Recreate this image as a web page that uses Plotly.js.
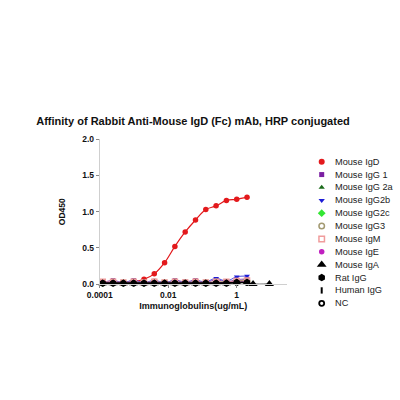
<!DOCTYPE html>
<html>
<head>
<meta charset="utf-8">
<script src="https://cdn.plot.ly/plotly-3.0.1.min.js"></script>
<style>html,body{margin:0;padding:0;background:#fff;}#chart{width:400px;height:400px;}</style>
</head>
<body>
<div id="chart"></div>
<script>
// concentrations (ug/mL), 2-fold dilution series, ascending
const conc = [0.0001220703125, 0.000244140625, 0.00048828125, 0.0009765625, 0.001953125,
  0.00390625, 0.0078125, 0.015625, 0.03125, 0.0625, 0.125, 0.25, 0.5, 1, 2];
const concIgA = conc.concat([3, 9]);

const seriesNames = ["Mouse IgD", "Mouse IgG 1", "Mouse IgG 2a", "Mouse IgG2b", "Mouse IgG2c",
  "Mouse IgG3", "Mouse IgM", "Mouse IgE", "Mouse IgA", "Rat IgG", "Human IgG", "NC"];

const mouseIgD   = [0.01, 0.01, 0.015, 0.03, 0.065, 0.14, 0.295, 0.52, 0.72, 0.885, 1.03, 1.08, 1.155, 1.17, 1.20];
const mouseIgG1  = [0.02, 0.05, 0.02, 0.05, 0.02, 0.04, 0.02, 0.05, 0.03, 0.05, 0.02, 0.06, 0.03, 0.06, 0.07];
const mouseIgG2a = [0.01, 0.02, 0.01, 0.02, 0.01, 0.02, 0.01, 0.02, 0.01, 0.02, 0.02, 0.02, 0.03, 0.04, 0.06];
const mouseIgG2b = [0.02, 0.04, 0.02, 0.05, 0.02, 0.05, 0.02, 0.05, 0.02, 0.05, 0.03, 0.08, 0.04, 0.10, 0.11];
const mouseIgG2c = [0.01, 0.02, 0.01, 0.02, 0.01, 0.02, 0.01, 0.02, 0.01, 0.02, 0.01, 0.03, 0.02, 0.03, 0.04];
const mouseIgG3  = [0.02, 0.03, 0.02, 0.03, 0.02, 0.03, 0.02, 0.03, 0.02, 0.03, 0.02, 0.03, 0.02, 0.04, 0.04];
const mouseIgM   = [0.03, 0.03, 0.02, 0.03, 0.02, 0.03, 0.02, 0.03, 0.02, 0.03, 0.02, 0.03, 0.03, 0.04, 0.05];
const mouseIgE   = [0.02, 0.02, 0.01, 0.02, 0.01, 0.02, 0.01, 0.02, 0.01, 0.02, 0.01, 0.02, 0.02, 0.03, 0.03];
const mouseIgA   = [0.01, 0.01, 0.01, 0.01, 0.01, 0.01, 0.01, 0.01, 0.01, 0.01, 0.01, 0.01, 0.01, 0.02, 0.02, 0.0, 0.0];
const ratIgG     = [0.01, 0.01, 0.01, 0.01, 0.01, 0.01, 0.01, 0.01, 0.01, 0.01, 0.01, 0.01, 0.01, 0.02, 0.02];
const humanIgG   = [0.01, 0.01, 0.01, 0.01, 0.01, 0.01, 0.01, 0.01, 0.01, 0.01, 0.01, 0.01, 0.02, 0.02, 0.02];
const ncValues   = [0.01, 0.01, 0.01, 0.01, 0.01, 0.01, 0.01, 0.01, 0.01, 0.01, 0.01, 0.01, 0.01, 0.02, 0.02];

const xTickVals = [0.0001, 0.01, 1];
const xTickText = ["0.0001", "0.01", "1"];
const yTickVals = [0, 0.5, 1, 1.5, 2];

const seriesX = [conc, conc, conc, conc, conc, conc, conc, conc, concIgA, conc, conc, conc];
const seriesY = [mouseIgD, mouseIgG1, mouseIgG2a, mouseIgG2b, mouseIgG2c, mouseIgG3, mouseIgM, mouseIgE,
  mouseIgA, ratIgG, humanIgG, ncValues];

const styles = [
  {color: "#e3191c", symbol: "circle", size: 5.5, lw: 0, line: 1.2},
  {color: "#7b1fa2", symbol: "square", size: 4.5, lw: 0, line: 0.8},
  {color: "#1b6b1b", symbol: "triangle-up", size: 5, lw: 0, line: 1},
  {color: "#1c1cd6", symbol: "triangle-down", size: 5, lw: 0, line: 0.8},
  {color: "#33e633", symbol: "diamond", size: 5.5, lw: 0, line: 0.8},
  {color: "#a39a72", symbol: "circle-open", size: 5, lw: 1.5, line: 0.8},
  {color: "#f09c9c", symbol: "square-open", size: 5, lw: 1.5, line: 0.8},
  {color: "#c020c0", symbol: "circle", size: 5, lw: 0, line: 0.8},
  {color: "#000000", symbol: "triangle-up", size: 8, lw: 0, line: 1},
  {color: "#000000", symbol: "hexagon", size: 7, lw: 0, line: 1.4},
  {color: "#000000", symbol: "line-ns", size: 4, lw: 2, line: 1},
  {color: "#000000", symbol: "circle-open", size: 4.5, lw: 1.8, line: 1}
];

const traces = [];
seriesNames.forEach((name, i) => {
  const s = styles[i];
  traces.push({
    type: "scatter", mode: "lines+markers", name: name,
    x: seriesX[i], y: seriesY[i], xaxis: "x", yaxis: "y",
    line: {color: s.color, width: s.line, shape: "spline"},
    marker: {color: s.color, symbol: s.symbol, size: s.size, line: {color: s.color, width: s.lw}},
    cliponaxis: false, showlegend: false, hoverinfo: "skip"
  });
});
// custom legend drawn on a hidden helper axis pair
const annotations = [];
seriesNames.forEach((name, i) => {
  const s = styles[i];
  traces.push({
    type: "scatter", mode: "markers", x: [0], y: [i], xaxis: "x2", yaxis: "y2",
    marker: {color: s.color, symbol: s.symbol, size: s.size + 0.5, line: {color: s.color, width: s.lw}},
    cliponaxis: false, showlegend: false, hoverinfo: "skip"
  });
  annotations.push({
    xref: "x2", yref: "y2", x: 11.5, y: i, text: name, showarrow: false,
    xanchor: "left", yanchor: "middle",
    font: {family: "Liberation Sans, Arial, sans-serif", size: 9.2, color: "#222"}
  });
});

const F = "Liberation Sans, Arial, sans-serif";
const layout = {
  width: 400, height: 400,
  margin: {l: 0, r: 0, t: 0, b: 0},
  paper_bgcolor: "#fff", plot_bgcolor: "#fff",
  showlegend: false,
  title: {
    text: "Affinity of Rabbit Anti-Mouse IgD (Fc) mAb, HRP conjugated",
    x: 0.4825, xanchor: "center", y: 0.696, yanchor: "middle", xref: "container", yref: "container",
    font: {family: F, size: 11, weight: "bold", color: "#111"}
  },
  xaxis: {
    type: "log", domain: [0.2495, 0.71675], range: [-4, 1.46], anchor: "y",
    tickvals: xTickVals, ticktext: xTickText,
    ticks: "outside", ticklen: 3, tickcolor: "#888", tickwidth: 1,
    showline: true, linecolor: "#cfcfcf", linewidth: 1,
    showgrid: false, zeroline: false,
    tickfont: {family: F, size: 8.5, weight: "bold", color: "#111"},
    title: {text: "Immunoglobulins(ug/mL)", standoff: 3, font: {family: F, size: 9, weight: "bold", color: "#111"}}
  },
  yaxis: {
    domain: [0.29, 0.65175], range: [0, 2], anchor: "x",
    tickvals: yTickVals, tickformat: ".1f",
    ticks: "outside", ticklen: 3, tickcolor: "#888", tickwidth: 1,
    showline: true, linecolor: "#cfcfcf", linewidth: 1,
    showgrid: false, zeroline: false,
    tickfont: {family: F, size: 8.5, weight: "bold", color: "#111"},
    title: {text: "OD450", standoff: 15, font: {family: F, size: 8.5, weight: "bold", color: "#111"}}
  },
  xaxis2: {domain: [0.75, 1], range: [-21.7, 78.3], anchor: "y2", visible: false, fixedrange: true},
  yaxis2: {domain: [0, 1], range: [18.512, -12.561], anchor: "x2", visible: false, fixedrange: true},
  annotations: annotations
};

Plotly.newPlot("chart", traces, layout, {staticPlot: true, displayModeBar: false});
</script>
</body>
</html>
